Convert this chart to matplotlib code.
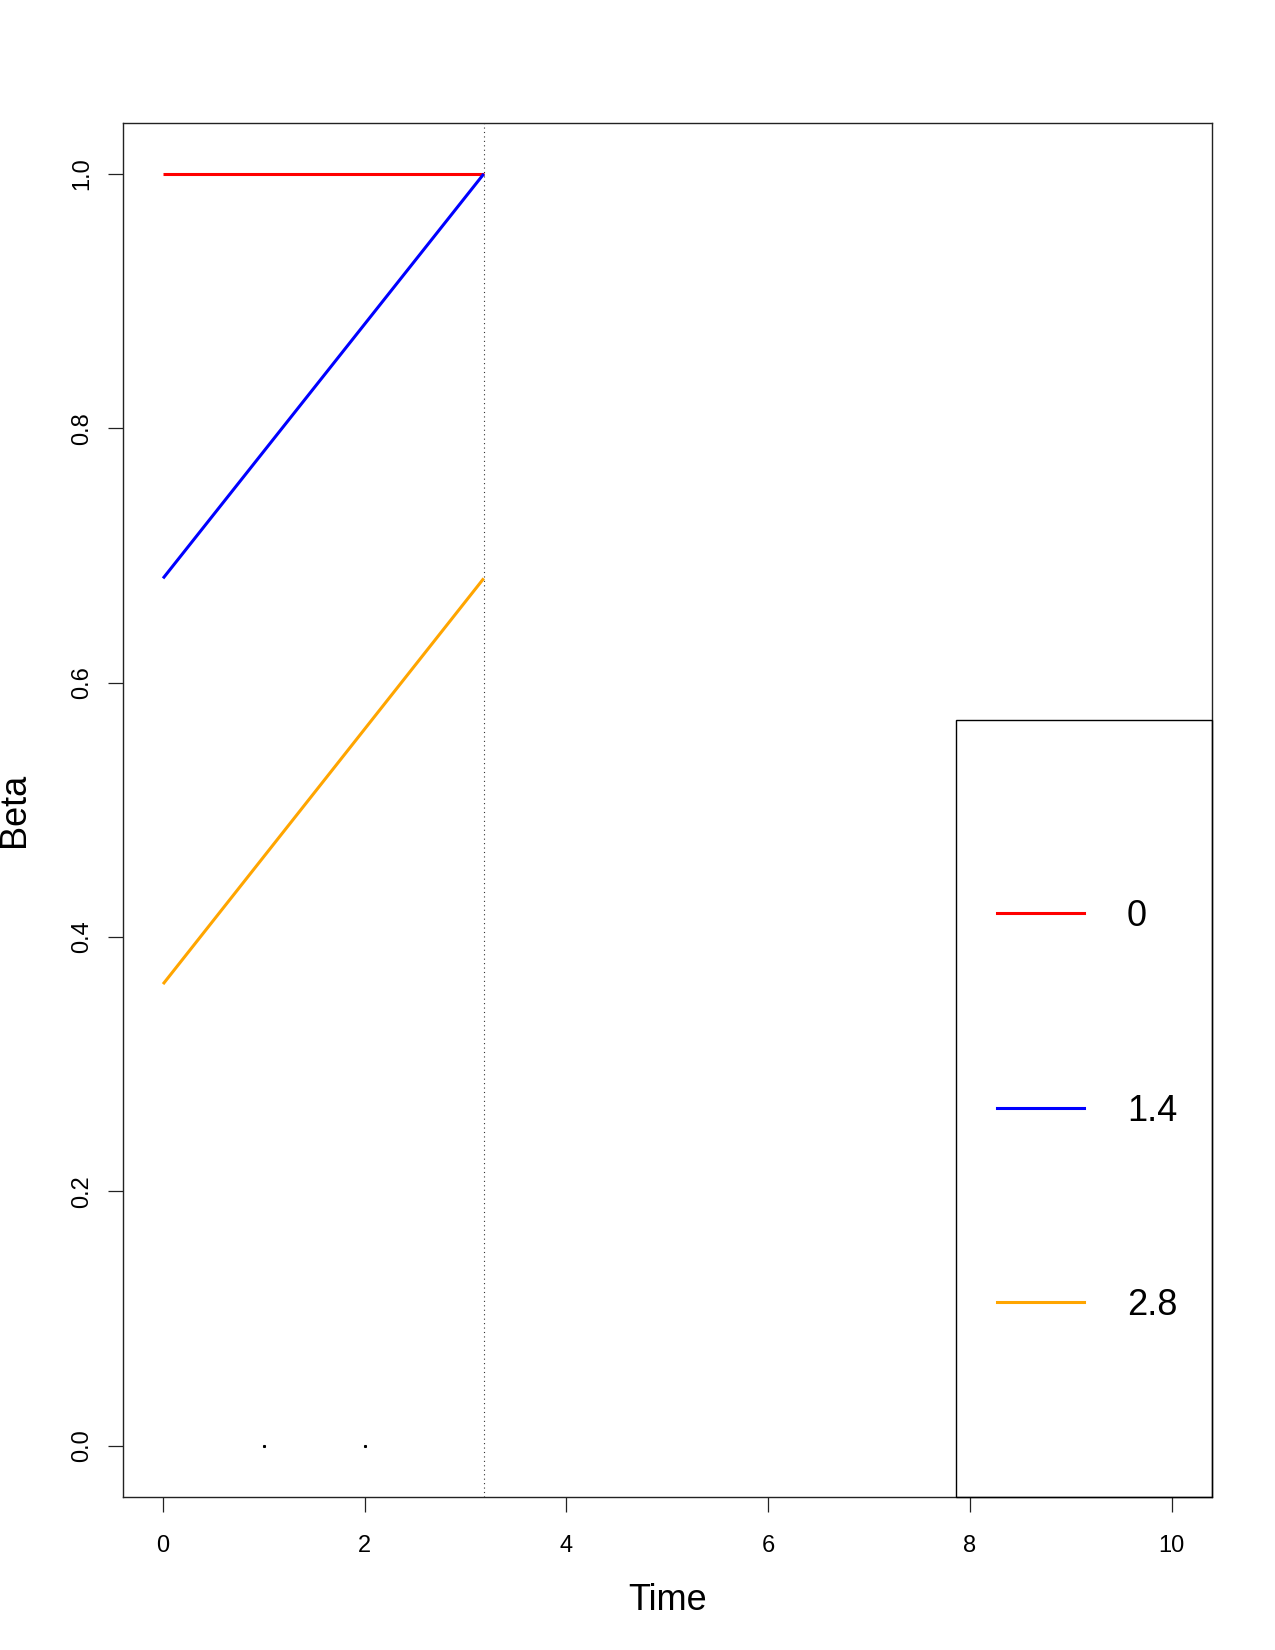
import matplotlib
matplotlib.use("Agg")
import matplotlib.pyplot as plt
from matplotlib.patches import Rectangle

plt.rcParams['font.family'] = ['Liberation Sans', 'DejaVu Sans']

# data
time_start = [0.0, 0.0, 0.0]
time_end = [3.18, 3.18, 3.18]
beta_start = [1.0, 0.682, 0.363]
beta_end = [1.0, 1.0, 0.682]
series_labels = ["0", "1.4", "2.8"]
series_colors = ["#FF0000", "#0000FF", "#FFA500"]
cut_time = 3.18
dot_x = [1, 2]
dot_y = [0, 0]
x_ticks = [0, 2, 4, 6, 8, 10]
y_ticks = [0.0, 0.2, 0.4, 0.6, 0.8, 1.0]
y_ticklabels = ["0.0", "0.2", "0.4", "0.6", "0.8", "1.0"]
legend_box_x = 7.86
legend_box_y = 0.571

W, H = 1275, 1650
fig = plt.figure(figsize=(W/100, H/100), dpi=100)
L, R, T, B = 122.7, 1212, 123, 1496.7
ax = fig.add_axes([L/W, 1-B/H, (R-L)/W, (B-T)/H])
ax.set_xlim(-0.4, 10.4)
ax.set_ylim(-0.04, 1.04)

for xs, xe, ys, ye, c in zip(time_start, time_end, beta_start, beta_end, series_colors):
    ax.plot([xs, xe], [ys, ye], color=c, lw=2.2, solid_capstyle='butt')

ax.axvline(cut_time, color='#333333', lw=0.8, ls=(0, (1, 3)))
ax.plot(dot_x, dot_y, ls='none', marker='s', ms=1.2, color='black')

ax.set_xticks(x_ticks)
ax.set_xticklabels([str(v) for v in x_ticks])
ax.set_yticks(y_ticks)
ax.set_yticklabels(y_ticklabels, rotation=90, va='center')
ax.tick_params(axis='both', length=11, width=0.9, labelsize=17, color='#222222')
ax.tick_params(axis='x', pad=16.3)
ax.tick_params(axis='y', pad=10.5)
for s in ax.spines.values():
    s.set_linewidth(1.0)
    s.set_color('#222222')

# legend box
ax.add_patch(Rectangle((legend_box_x, -0.04), 10.4 - legend_box_x, legend_box_y + 0.04,
                       fill=False, edgecolor='black', lw=1.0, clip_on=False, zorder=3))

# legend entries (pixel -> data positions)
def px2x(px):
    return -0.4 + (px - L) / (R - L) * 10.8
def py2y(py):
    return 1.04 - (py - T) / (B - T) * 1.08

leg_y = [913, 1108, 1302]
for yy, lab, c in zip(leg_y, series_labels, series_colors):
    ax.plot([px2x(997), px2x(1084)], [py2y(yy), py2y(yy)], color=c, lw=2.2)
    ax.text(px2x(1127), py2y(yy + 3), lab, fontsize=26, va='center', ha='left')

fig.text(668/W, 1 - 1600/H, "Time", fontsize=26, ha='center', va='center')
fig.text(15/W, 1 - 810/H, "Beta", fontsize=26, ha='center', va='center', rotation=90)

fig.savefig("out.png", dpi=100)
